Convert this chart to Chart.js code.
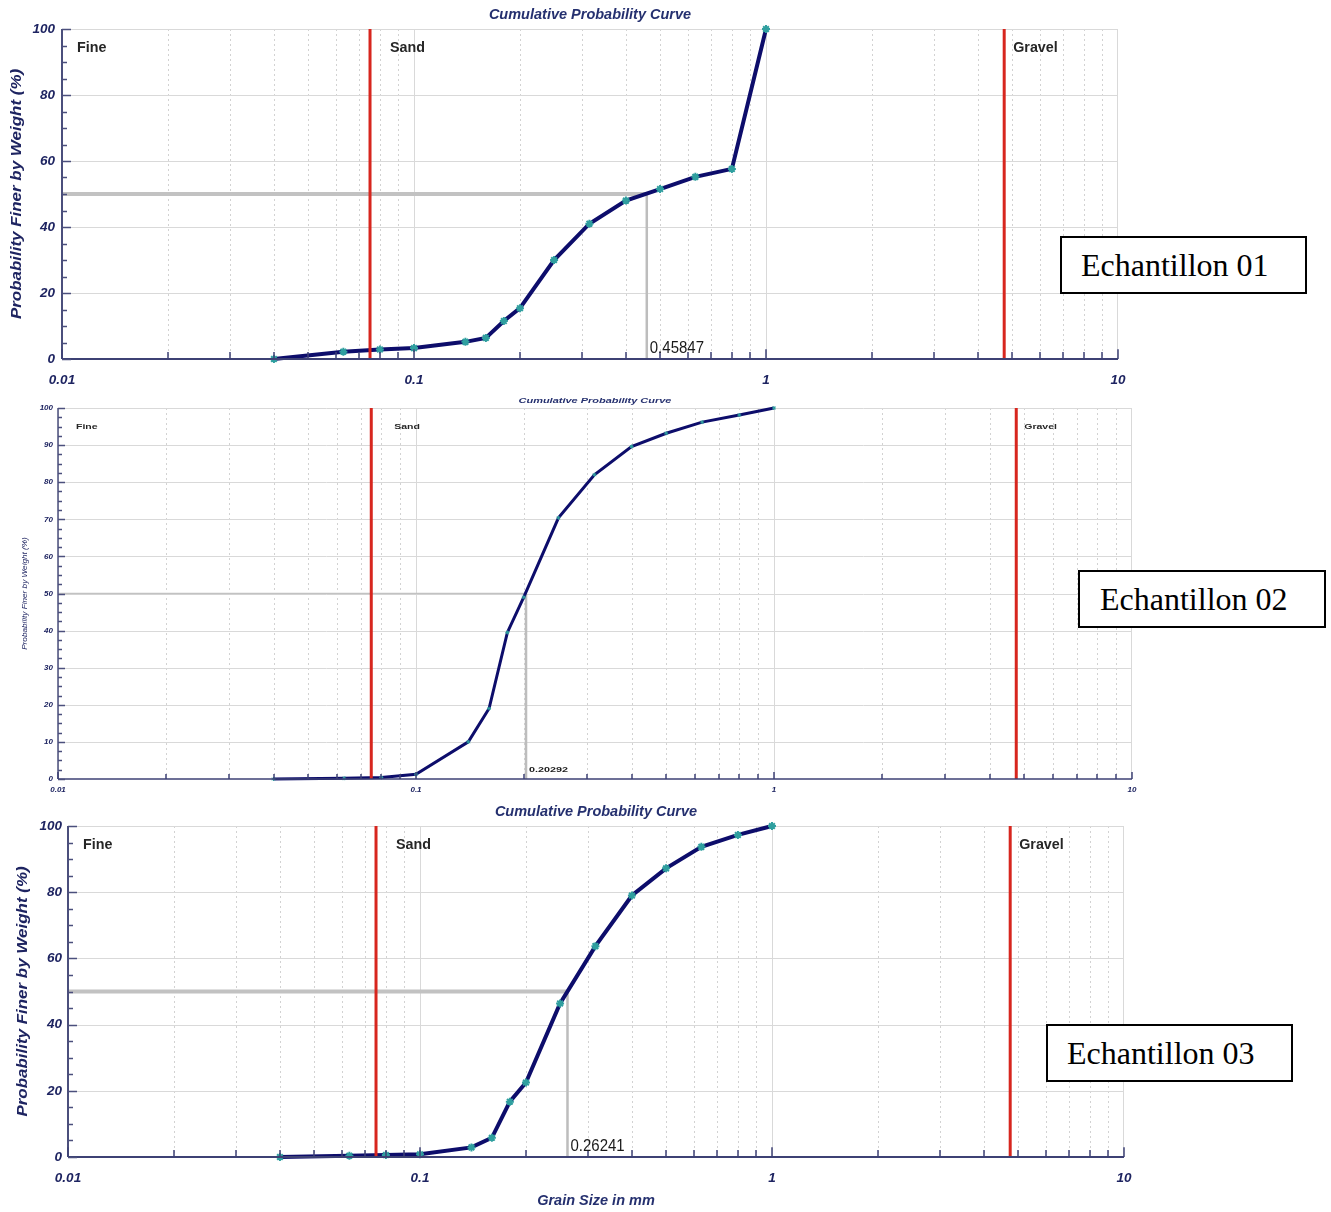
<!DOCTYPE html>
<html><head><meta charset="utf-8">
<script src="https://cdn.jsdelivr.net/npm/chart.js@4.4.1/dist/chart.umd.min.js"></script>
<style>
html,body{margin:0;padding:0;background:#fff;}
body{width:1331px;height:1212px;position:relative;overflow:hidden;}
canvas{position:absolute;left:0;}
.tag{position:absolute;box-sizing:border-box;height:58px;border:2px solid #000;background:#fff;font-family:'Liberation Serif','Times New Roman',serif;font-size:32px;line-height:54px;color:#000;white-space:nowrap;}
</style></head><body>
<canvas id="c1" width="1331" height="395" style="top:0px"></canvas>
<canvas id="c2" width="1331" height="402" style="top:395px"></canvas>
<canvas id="c3" width="1331" height="415" style="top:797px"></canvas>
<script>
// ---------- data ----------
const sieveSizes = [0.04, 0.063, 0.08, 0.1, 0.14, 0.16, 0.18, 0.2, 0.25, 0.315, 0.4, 0.5, 0.63, 0.8, 1];
const passing01 = [0, 2.2, 2.9, 3.3, 5.2, 6.4, 11.5, 15.4, 30, 41, 48, 51.5, 55.2, 57.6, 100];
const passing02 = [0, 0.2, 0.4, 1.3, 10, 19, 39.5, 49, 70.4, 82, 89.6, 93.2, 96.2, 98.1, 100];
const passing03 = [0, 0.4, 0.6, 0.8, 2.9, 5.8, 16.7, 22.5, 46.4, 63.7, 79, 87.2, 93.7, 97.3, 100];
const d50Values = [0.45847, 0.20292, 0.26241];
const d50Labels = ['0.45847', '0.20292', '0.26241'];
const medianLevel = 50;
const classLimits = [0.075, 4.75];
const classNames = ['Fine', 'Sand', 'Gravel'];
const xTickValues = [0.01, 0.1, 1, 10];
const xTickLabels = ['0.01', '0.1', '1', '10'];
const sampleNames = ['Echantillon 01', 'Echantillon 02', 'Echantillon 03'];
const chartTitle = 'Cumulative Probability Curve';
const yAxisTitle = 'Probability Finer by Weight (%)';
const xAxisTitle = 'Grain Size in mm';

// ---------- styles ----------
const FAM = "'Liberation Sans', Arial, sans-serif";
const NAVY = '#1e2461';
const styles = [
  {id:'c1', h:395, area:{left:62,right:1118,top:29,bottom:359}, yStep:20, yMinor:5, yWidth:40, xHeight:32,
   yPad:7, xPad:13, tickSize:13.5, curveW:4, pointR:4, medHW:4, medVW:2.5, redW:3, axisW:2, xTickLen:7, yMajLen:9, yMinLen:5,
   title:{size:14.5, sx:1, dy:14}, yTitle:{x:17, size:15, bold:true, sy:1.13},
   cls:{size:14.3, sx:1, dy:19, fine:15, sand:20, gravel:9}, med:{size:15, bold:false, sx:1, sy:1.15, dy:2}, xTitle:null},
  {id:'c2', h:402, area:{left:58,right:1132,top:13,bottom:384}, yStep:10, yMinor:2.5, yWidth:30, xHeight:15,
   yPad:5, xPad:6, tickSize:8, curveW:3, pointR:2, medHW:1.5, medVW:2.5, redW:3, axisW:1.5, xTickLen:5, yMajLen:7, yMinLen:4,
   title:{size:8, sx:1.37, dy:7}, yTitle:{x:25, size:7.8, bold:false, sy:1.05},
   cls:{size:7.5, sx:1.4, dy:19, fine:18, sand:23, gravel:8}, med:{size:8, bold:true, sx:1.35, sy:1, dy:5}, xTitle:null},
  {id:'c3', h:415, area:{left:68,right:1124,top:29,bottom:360}, yStep:20, yMinor:5, yWidth:40, xHeight:32,
   yPad:6, xPad:13, tickSize:13.5, curveW:4, pointR:4, medHW:4, medVW:2.5, redW:3, axisW:2, xTickLen:7, yMajLen:9, yMinLen:5,
   title:{size:14.5, sx:1, dy:14}, yTitle:{x:23, size:15, bold:true, sy:1.13},
   cls:{size:14.3, sx:1, dy:19, fine:15, sand:20, gravel:9}, med:{size:15, bold:false, sx:1, sy:1.15, dy:2},
   xTitle:{size:14.5, y:404}}
];
const passings = [passing01, passing02, passing03];

function txt(ctx, s, x, y, font, color, align, baseline, sx, sy, rot) {
  ctx.save();
  ctx.translate(x, y);
  ctx.scale(sx || 1, sy || 1);
  if (rot) ctx.rotate(rot);
  ctx.font = font; ctx.fillStyle = color;
  ctx.textAlign = align || 'left'; ctx.textBaseline = baseline || 'middle';
  ctx.fillText(s, 0, 0);
  ctx.restore();
}

const framePlugin = {
  id: 'frame',
  beforeDatasetsDraw(chart, args, o) {
    const st = o.st;
    const {ctx, chartArea: a, scales: {x, y}} = chart;
    ctx.save();
    ctx.lineWidth = 1;
    for (let d = 0; d < xTickValues.length - 1; d++) {
      for (let m = 1; m <= 9; m++) {
        const px = Math.round(x.getPixelForValue(xTickValues[d] * m)) + 0.5;
        ctx.beginPath();
        if (m === 1) { ctx.setLineDash([]); ctx.strokeStyle = '#d9d9d9'; }
        else { ctx.setLineDash([2, 3]); ctx.strokeStyle = '#d2d2d2'; }
        ctx.moveTo(px, a.top); ctx.lineTo(px, a.bottom); ctx.stroke();
      }
    }
    ctx.setLineDash([]);
    ctx.strokeStyle = '#d9d9d9';
    const pr = Math.round(x.getPixelForValue(xTickValues[xTickValues.length - 1])) - 0.5;
    ctx.beginPath(); ctx.moveTo(pr, a.top); ctx.lineTo(pr, a.bottom); ctx.stroke();
    for (let v = st.yStep; v <= 100; v += st.yStep) {
      const py = Math.round(y.getPixelForValue(v)) + 0.5;
      ctx.beginPath(); ctx.moveTo(a.left, py); ctx.lineTo(a.right, py); ctx.stroke();
    }
    ctx.restore();
  },
  afterDatasetsDraw(chart, args, o) {
    const st = o.st;
    const {ctx, chartArea: a, scales: {x, y}} = chart;
    ctx.save();
    ctx.strokeStyle = '#4b4f7c';
    ctx.lineWidth = st.axisW;
    ctx.beginPath(); ctx.moveTo(a.left, a.top); ctx.lineTo(a.left, a.bottom); ctx.stroke();
    ctx.strokeStyle = '#3d4174';
    ctx.beginPath(); ctx.moveTo(a.left, a.bottom); ctx.lineTo(a.right, a.bottom); ctx.stroke();
    ctx.lineWidth = 1.5;
    for (let d = 0; d < xTickValues.length; d++) {
      for (let m = 1; m <= 9; m++) {
        if (d === xTickValues.length - 1 && m > 1) break;
        const px = Math.round(x.getPixelForValue(xTickValues[d] * m));
        const len = m === 1 ? st.xTickLen * 1.4 : st.xTickLen;
        ctx.beginPath(); ctx.moveTo(px, a.bottom); ctx.lineTo(px, a.bottom - len); ctx.stroke();
      }
    }
    ctx.strokeStyle = '#4b4f7c';
    for (let v = 0; v <= 100.001; v += st.yMinor) {
      const py = Math.round(y.getPixelForValue(v)) + 0.5;
      const major = Math.abs(v / st.yStep - Math.round(v / st.yStep)) < 1e-6;
      ctx.beginPath(); ctx.moveTo(a.left, py); ctx.lineTo(a.left + (major ? st.yMajLen : st.yMinLen), py); ctx.stroke();
    }
    ctx.restore();
  },
  afterDraw(chart, args, o) {
    const st = o.st, idx = o.idx;
    const {ctx, chartArea: a, scales: {x, y}} = chart;
    const cx = (a.left + a.right) / 2;
    txt(ctx, chartTitle, cx, a.top - st.title.dy, 'italic bold ' + st.title.size + 'px ' + FAM, '#25306f', 'center', 'middle', st.title.sx, 1);
    txt(ctx, yAxisTitle, st.yTitle.x, (a.top + a.bottom) / 2,
        'italic ' + (st.yTitle.bold ? 'bold ' : '') + st.yTitle.size + 'px ' + FAM, NAVY, 'center', 'middle', 1, st.yTitle.sy, -Math.PI / 2);
    if (st.xTitle) txt(ctx, xAxisTitle, cx, st.xTitle.y, 'italic bold ' + st.xTitle.size + 'px ' + FAM, '#25306f', 'center', 'middle', 1, 1);
    const cf = 'bold ' + st.cls.size + 'px ' + FAM;
    const ly = a.top + st.cls.dy;
    txt(ctx, classNames[0], a.left + st.cls.fine, ly, cf, '#262626', 'left', 'middle', st.cls.sx, 1);
    txt(ctx, classNames[1], x.getPixelForValue(classLimits[0]) + st.cls.sand, ly, cf, '#262626', 'left', 'middle', st.cls.sx, 1);
    txt(ctx, classNames[2], x.getPixelForValue(classLimits[1]) + st.cls.gravel, ly, cf, '#262626', 'left', 'middle', st.cls.sx, 1);
    txt(ctx, d50Labels[idx], x.getPixelForValue(d50Values[idx]) + 3, a.bottom - st.med.dy,
        (st.med.bold ? 'bold ' : '') + st.med.size + 'px ' + FAM, '#1a1a1a', 'left', 'bottom', st.med.sx, st.med.sy);
  }
};

function buildChart(idx) {
  const st = styles[idx];
  const passing = passings[idx];
  const d50 = d50Values[idx];
  const W = 1331;
  const pts = sieveSizes.map((s, i) => ({x: s, y: passing[i]}));
  const tickFont = {family: FAM, size: st.tickSize, style: 'italic', weight: 'bold'};
  const datasets = [
    {data: [{x: classLimits[0], y: 0}, {x: classLimits[0], y: 100}], borderColor: '#d7261e', borderWidth: st.redW, pointRadius: 0, order: 0, clip: false},
    {data: [{x: classLimits[1], y: 0}, {x: classLimits[1], y: 100}], borderColor: '#d7261e', borderWidth: st.redW, pointRadius: 0, order: 0, clip: false},
    {data: pts, borderColor: '#0d0d6b', borderWidth: st.curveW, pointStyle: 'star', pointRadius: st.pointR,
     pointBorderColor: '#2f9f9f', pointBackgroundColor: '#2f9f9f', pointBorderWidth: idx === 1 ? 1 : 2, order: 1, clip: false, tension: 0},
    {data: [{x: xTickValues[0], y: medianLevel}, {x: d50, y: medianLevel}], borderColor: '#c2c2c2', borderWidth: st.medHW, pointRadius: 0, order: 2, clip: false},
    {data: [{x: d50, y: medianLevel}, {x: d50, y: 0}], borderColor: '#bdbdbd', borderWidth: st.medVW, pointRadius: 0, order: 2, clip: false}
  ];
  return new Chart(document.getElementById(st.id), {
    type: 'line',
    data: {datasets},
    plugins: [framePlugin],
    options: {
      responsive: false, animation: false, events: [],
      layout: {padding: {left: st.area.left - st.yWidth, right: W - st.area.right, top: st.area.top, bottom: st.h - st.area.bottom - st.xHeight}},
      plugins: {legend: {display: false}, tooltip: {enabled: false}, title: {display: false}, frame: {st, idx}},
      scales: {
        x: {
          type: 'logarithmic', min: xTickValues[0], max: xTickValues[xTickValues.length - 1],
          afterBuildTicks: (sc) => { sc.ticks = xTickValues.map(v => ({value: v})); },
          afterFit: (sc) => { sc.height = st.xHeight; },
          grid: {display: false, drawTicks: false}, border: {display: false},
          ticks: {autoSkip: false, maxRotation: 0, padding: st.xPad, color: NAVY, font: tickFont,
                  callback: (v, i) => xTickLabels[i]}
        },
        y: {
          type: 'linear', min: 0, max: 100,
          ticks: {stepSize: st.yStep, padding: st.yPad, color: NAVY, font: tickFont},
          afterFit: (sc) => { sc.width = st.yWidth; },
          grid: {display: false, drawTicks: false}, border: {display: false}
        }
      }
    }
  });
}

[0, 1, 2].forEach(buildChart);

const tagPos = [{l: 1060, t: 236, w: 247, p: 19}, {l: 1078, t: 570, w: 248, p: 20}, {l: 1046, t: 1024, w: 247, p: 19}];
sampleNames.forEach((n, i) => {
  const d = document.createElement('div');
  d.className = 'tag';
  d.textContent = n;
  d.style.left = tagPos[i].l + 'px'; d.style.top = tagPos[i].t + 'px';
  d.style.width = tagPos[i].w + 'px'; d.style.paddingLeft = tagPos[i].p + 'px';
  document.body.appendChild(d);
});
</script>
</body></html>
